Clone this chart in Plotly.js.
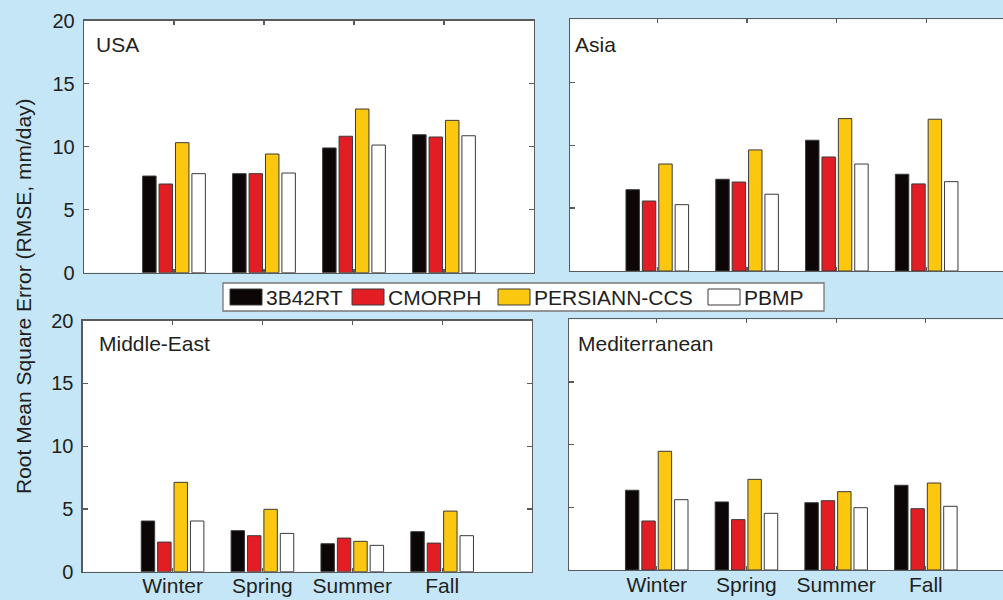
<!DOCTYPE html>
<html>
<head>
<meta charset="utf-8">
<script src="https://cdn.plot.ly/plotly-3.0.1.min.js"></script>
<style>
  html, body { margin: 0; padding: 0; background: #c4e6f7; }
  #chart { width: 1003px; height: 600px; }
</style>
</head>
<body>
<div id="chart"></div>
<script>
// Seasons on the category axis, products in the legend, regions per panel
const seasons = ['Winter', 'Spring', 'Summer', 'Fall'];
const products = ['3B42RT', 'CMORPH', 'PERSIANN-CCS', 'PBMP'];
const regions = ['USA', 'Asia', 'Middle-East', 'Mediterranean'];

// RMSE (mm/day); one row per product, one column per season
const usaRMSE = [
  [7.67, 7.86, 9.90, 10.95],
  [7.04, 7.86, 10.83, 10.77],
  [10.32, 9.42, 12.99, 12.09],
  [7.86, 7.91, 10.13, 10.87]
];
const asiaRMSE = [
  [6.46, 7.29, 10.39, 7.69],
  [5.56, 7.07, 9.06, 6.92],
  [8.50, 9.62, 12.11, 12.06],
  [5.27, 6.10, 8.50, 7.10]
];
const middleEastRMSE = [
  [4.04, 3.27, 2.23, 3.19],
  [2.36, 2.87, 2.68, 2.28],
  [7.12, 4.97, 2.42, 4.83],
  [4.04, 3.05, 2.10, 2.87]
];
const mediterraneanRMSE = [
  [6.36, 5.43, 5.37, 6.76],
  [3.91, 4.02, 5.53, 4.89],
  [9.47, 7.23, 6.25, 6.94],
  [5.61, 4.52, 4.97, 5.08]
];
const yTicks = [0, 5, 10, 15, 20];

const fillColors = ['#0c0706', '#e31d24', '#fcc70f', '#ffffff'];
const W = 1003, H = 600;
const textColor = '#231f20';
const axisColor = '#5a5a5a';
const fontFamily = '"Liberation Sans", Arial, Helvetica, sans-serif';

const regionData = [usaRMSE, asiaRMSE, middleEastRMSE, mediterraneanRMSE];
const axisIds = ['', '2', '3', '4'];

const traces = [];
regionData.forEach((rows, r) => {
  rows.forEach((vals, p) => {
    traces.push({
      type: 'bar',
      name: products[p],
      x: seasons,
      y: vals,
      xaxis: 'x' + axisIds[r],
      yaxis: 'y' + axisIds[r],
      marker: { color: fillColors[p], line: { color: '#3a3a3a', width: 1 } },
      showlegend: false,
      hoverinfo: 'x+y+name'
    });
  });
});

// Panel boxes in pixels: [left, right, top, bottom, catRangeStart, catRangeEnd]
const panels = [
  [84, 534, 20.7, 272.7, -1, 4],
  [570, 1003, 19.3, 271, -0.972, 3.85],
  [82.7, 532, 320.7, 571.7, -1, 4],
  [569, 1003, 319.3, 570, -0.978, 3.86]
];

function xAxis(i) {
  const p = panels[i];
  return {
    type: 'category',
    domain: [p[0] / W, p[1] / W],
    range: [p[4], p[5]],
    anchor: 'y' + axisIds[i],
    showline: true, linecolor: axisColor, linewidth: 1.3,
    mirror: 'ticks',
    ticks: 'inside', ticklen: 4, tickcolor: axisColor, tickwidth: 1.2,
    showgrid: false, zeroline: false,
    showticklabels: i >= 2,
    ticklabelstandoff: -5,
    tickfont: { family: fontFamily, size: 21, color: textColor },
    fixedrange: true
  };
}
function yAxis(i) {
  const p = panels[i];
  const left = i % 2 === 0;
  return {
    domain: [1 - p[3] / H, 1 - p[2] / H],
    range: [0, 20],
    anchor: 'x' + axisIds[i],
    tickvals: yTicks,
    showline: true, linecolor: axisColor, linewidth: 1.3,
    mirror: left ? 'ticks' : false,
    ticks: 'inside', ticklen: 5, tickcolor: axisColor, tickwidth: 1.2,
    showgrid: false, zeroline: false,
    showticklabels: left,
    ticklabelstandoff: 4,
    tickfont: { family: fontFamily, size: 20, color: textColor },
    fixedrange: true
  };
}

// Region names inside each panel, top-left corner
const titlePos = [[94, 44.5], [573, 44], [97, 343.7], [576, 343.7]];
const annotations = regions.map((name, i) => ({
  text: name, xref: 'paper', yref: 'paper',
  x: titlePos[i][0] / W, y: 1 - titlePos[i][1] / H,
  xanchor: 'left', yanchor: 'middle', showarrow: false,
  font: { family: fontFamily, size: 21, color: textColor }
}));

annotations.push({
  text: 'Root Mean Square Error (RMSE, mm/day)',
  xref: 'paper', yref: 'paper', x: 23 / W, y: 1 - 296 / H,
  xanchor: 'center', yanchor: 'middle', textangle: -90, showarrow: false,
  font: { family: fontFamily, size: 21, color: textColor }
});

// Shared legend between the two rows
const shapes = [{
  type: 'rect', xref: 'paper', yref: 'paper',
  x0: 223 / W, x1: 824 / W, y0: 1 - 311 / H, y1: 1 - 283 / H,
  fillcolor: '#ffffff', line: { color: '#777777', width: 1.3 }
}];
const swatchLeft = [230, 352, 498, 708];
products.forEach((name, p) => {
  const x0 = swatchLeft[p];
  shapes.push({
    type: 'rect', xref: 'paper', yref: 'paper',
    x0: x0 / W, x1: (x0 + 32) / W, y0: 1 - 305 / H, y1: 1 - 289 / H,
    fillcolor: fillColors[p], line: { color: '#3a3a3a', width: 1 }
  });
  annotations.push({
    text: name, xref: 'paper', yref: 'paper',
    x: (x0 + 34) / W, y: 1 - 297 / H,
    xanchor: 'left', yanchor: 'middle', showarrow: false,
    font: { family: fontFamily, size: 21, color: textColor }
  });
});

const layout = {
  width: W, height: H,
  margin: { l: 0, r: 0, t: 0, b: 0 },
  paper_bgcolor: '#c4e6f7',
  plot_bgcolor: '#ffffff',
  barmode: 'group',
  bargap: 0.27,
  bargroupgap: 0.18,
  showlegend: false,
  font: { family: fontFamily, color: textColor },
  annotations: annotations,
  shapes: shapes
};
for (let i = 0; i < 4; i++) {
  layout['xaxis' + axisIds[i]] = xAxis(i);
  layout['yaxis' + axisIds[i]] = yAxis(i);
}

Plotly.newPlot('chart', traces, layout, { displayModeBar: false, staticPlot: true });
</script>
</body>
</html>
